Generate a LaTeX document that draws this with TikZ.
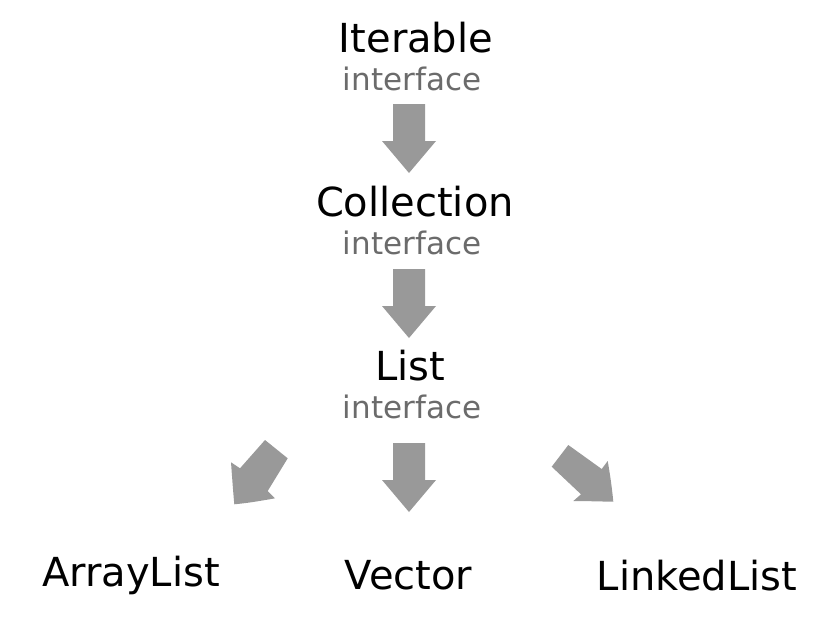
\documentclass[tikz,border=0pt]{standalone}
\usepackage{fontspec}
\setmainfont{DejaVu Sans}
\begin{document}
\begin{tikzpicture}[x=1pt,y=-1pt,
  cls/.style={anchor=base,inner sep=0pt,font=\fontsize{40}{42}\selectfont,text=black},
  iface/.style={anchor=base,inner sep=0pt,font=\fontsize{31}{33}\selectfont,text=black!58},
  barrow/.style={fill=black!40,draw=none}]
\useasboundingbox (0,0) rectangle (829,633);
% class / interface labels
\node[cls] (it) at (416,52) {Iterable};
\node[iface] (iti) at (412,90) {interface};
\node[cls] (co) at (415,216.5) {Collection};
\node[iface] (coi) at (412,254) {interface};
\node[cls] (li) at (410,380) {List};
\node[iface] (lii) at (412,418) {interface};
\node[cls] (al) at (131,586) {ArrayList};
\node[cls] (ve) at (408.5,589) {Vector};
\node[cls] (ll) at (697,590) {LinkedList};
% straight block arrows
\foreach \t in {104,269,443}{
  \fill[barrow] (393,\t) -- (425,\t) -- (425,\t+37) -- (436,\t+37) -- (409,\t+69)
     -- (382,\t+37) -- (393,\t+37) -- cycle;
}
% left diagonal block arrow
\fill[barrow] (265,440) -- (287.7,458.3) -- (267.7,491) -- (275,498.3)
   .. controls (260,501) and (248,503) .. (234.3,504.3)
   .. controls (233,490) and (232,476) .. (231,462.3)
   -- (240,468.3) -- cycle;
% right diagonal block arrow
\fill[barrow] (568.3,445) -- (551.7,466.7) -- (581,494.3) -- (573.3,501)
   .. controls (587,501) and (600,501.5) .. (613.3,501.7)
   .. controls (612,488) and (610,474) .. (607.7,461)
   -- (601.7,469) -- cycle;
\end{tikzpicture}
\end{document}
